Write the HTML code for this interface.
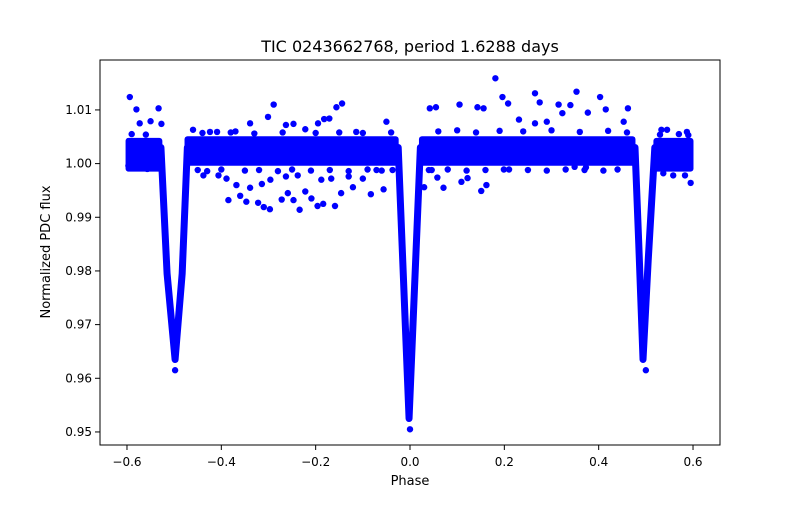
<!DOCTYPE html>
<html><head><meta charset="utf-8"><style>
body{margin:0;background:#fff;font-family:"Liberation Sans","DejaVu Sans",sans-serif}
svg text{font-family:"DejaVu Sans","Liberation Sans",sans-serif}
</style></head><body>
<svg id="chart" width="800" height="500" xmlns="http://www.w3.org/2000/svg">
<rect width="800" height="500" fill="#fff"/>
<text x="410" y="52" font-size="16" text-anchor="middle">TIC 0243662768, period 1.6288 days</text>
<g id="plot"></g>
<rect x="100" y="60" width="620" height="385" fill="none" stroke="#000" stroke-width="1"/>
<g id="xticks"></g>
<g id="yticks"></g>
<text x="410" y="485" font-size="13" text-anchor="middle">Phase</text>
<text transform="translate(50,252) rotate(-90)" font-size="13" text-anchor="middle">Normalized PDC flux</text>
</svg>
<script>
const xTicks=[-0.6,-0.4,-0.2,0.0,0.2,0.4,0.6];
const xTickLabels=["\u22120.6","\u22120.4","\u22120.2","0.0","0.2","0.4","0.6"];
const yTicks=[0.95,0.96,0.97,0.98,0.99,1.00,1.01];
const yTickLabels=["0.95","0.96","0.97","0.98","0.99","1.00","1.01"];
// flat out-of-eclipse bands: start phase, end phase, low flux, high flux
const bandStart=[-0.603,-0.478,0.019,0.516];
const bandEnd=[-0.525,-0.024,0.478,0.601];
const bandLow=[0.9985,0.9996,0.9996,0.9985];
const bandHigh=[1.0048,1.0051,1.0051,1.0048];
// eclipse centre lines
const eclipsePhase=[[-0.528,-0.515,-0.498,-0.483,-0.472],[-0.025,-0.002,0.022],[0.477,0.485,0.494,0.505,0.519]];
const eclipseFlux=[[1.003,0.9795,0.9635,0.9795,1.003],[1.003,0.9525,1.003],[1.003,0.985,0.9635,0.982,1.003]];
// scattered outlier points
const outPhase=[-0.594,-0.580,-0.533,-0.573,-0.550,-0.527,-0.597,-0.557,-0.289,-0.301,-0.339,-0.156,-0.144,-0.171,-0.385,-0.360,-0.347,-0.322,-0.310,-0.297,-0.272,-0.259,-0.247,-0.234,-0.222,-0.209,-0.196,-0.184,-0.159,-0.146,-0.121,-0.083,-0.056,-0.050,0.181,0.196,0.208,0.265,0.275,0.353,0.403,0.415,0.315,0.340,0.462,0.105,0.042,0.055,0.143,0.156,0.151,0.162,0.058,0.071,0.109,0.122,0.199,0.046,0.533,0.545,0.587,0.595,0.583,0.558,0.537,0.349,0.373,-0.460,-0.424,-0.409,-0.370,-0.263,-0.247,-0.222,-0.195,-0.182,-0.114,-0.438,-0.406,-0.389,-0.368,-0.339,-0.314,-0.296,-0.263,-0.238,-0.188,-0.167,-0.130,-0.100,-0.071,-0.037,0.030,0.323,0.377,0.231,0.265,0.290,0.453,-0.498,0.000,0.500,
-0.45,-0.43,-0.40,-0.35,-0.32,-0.28,-0.25,-0.21,-0.17,-0.13,-0.09,-0.06,0.04,0.08,0.12,0.16,0.21,0.25,0.29,0.33,0.37,0.41,0.44,-0.44,-0.38,-0.33,-0.27,-0.20,-0.15,-0.10,-0.04,0.06,0.10,0.14,0.19,0.24,0.30,0.36,0.42,0.46,-0.59,-0.56,0.53,0.57,0.59];
const outFlux=[1.0124,1.0101,1.0103,1.0075,1.0079,1.0074,0.9996,0.9990,1.0110,1.0087,1.0075,1.0105,1.0112,1.0084,0.9932,0.9940,0.9929,0.9927,0.9919,0.9915,0.9933,0.9945,0.9932,0.9914,0.9948,0.9935,0.9921,0.9925,0.9921,0.9945,0.9956,0.9943,0.9952,1.0078,1.0159,1.0124,1.0112,1.0131,1.0114,1.0134,1.0124,1.0101,1.0110,1.0109,1.0103,1.0110,1.0103,1.0105,1.0105,1.0103,0.9949,0.9960,0.9974,0.9955,0.9966,0.9973,0.9989,0.9988,1.0063,1.0063,1.0059,0.9964,0.9978,0.9978,0.9982,0.9994,0.9993,1.0063,1.0059,1.0059,1.0060,1.0072,1.0074,1.0064,1.0075,1.0083,1.0059,0.9978,0.9978,0.9972,0.9960,0.9955,0.9962,0.9970,0.9976,0.9978,0.9970,0.9972,0.9976,0.9972,0.9988,0.9988,0.9956,1.0094,1.0095,1.0082,1.0075,1.0078,1.0078,0.9615,0.9505,0.9615,
0.9988,0.9986,0.9989,0.9987,0.9988,0.9986,0.9989,0.9987,0.9988,0.9986,0.9989,0.9987,0.9988,0.9989,0.9987,0.9988,0.9989,0.9988,0.9987,0.9989,0.9988,0.9987,0.9989,1.0057,1.0058,1.0056,1.0058,1.0057,1.0058,1.0057,1.0058,1.0060,1.0062,1.0058,1.0061,1.0060,1.0062,1.0059,1.0061,1.0058,1.0055,1.0054,1.0054,1.0055,1.0053];
const X=p=>410+p*471.7;
const Y=f=>163.6-(f-1)*5367;
const NS="http://www.w3.org/2000/svg";
const plot=document.getElementById('plot');
function mk(t,a){const e=document.createElementNS(NS,t);for(const k in a)e.setAttribute(k,a[k]);return e;}
for(let i=0;i<bandStart.length;i++){
 const r=mk('rect',{x:X(bandStart[i]),y:Y(bandHigh[i]),width:X(bandEnd[i])-X(bandStart[i]),height:Y(bandLow[i])-Y(bandHigh[i]),rx:3,fill:'#0000ff'});
 
 
 plot.appendChild(r);
}
for(let i=0;i<eclipsePhase.length;i++){
 const pts=eclipsePhase[i].map((p,j)=>X(p)+','+Y(eclipseFlux[i][j])).join(' ');
 const l=mk('polyline',{points:pts,fill:'none',stroke:'#0000ff','stroke-width':7,'stroke-linejoin':'round','stroke-linecap':'round'});
 
 
 plot.appendChild(l);
}
for(let i=0;i<outPhase.length;i++){
 const c=mk('circle',{cx:X(outPhase[i]),cy:Y(outFlux[i]),r:3.2,fill:'#0000ff'});
 
 
 plot.appendChild(c);
}
const xg=document.getElementById('xticks');
xTicks.forEach((t,i)=>{
 const l=mk('line',{x1:X(t),x2:X(t),y1:445,y2:450,stroke:'#000'});
 
 
 xg.appendChild(l);
 const s=mk('text',{x:X(t),y:466,'font-size':12,'text-anchor':'middle'});
 
 
 s.textContent=xTickLabels[i];xg.appendChild(s);
});
const yg=document.getElementById('yticks');
yTicks.forEach((t,i)=>{
 const l=mk('line',{x1:95,x2:100,y1:Y(t),y2:Y(t),stroke:'#000'});
 
 
 yg.appendChild(l);
 const s=mk('text',{x:92,y:Y(t)+4,'font-size':12,'text-anchor':'end'});
 
 
 s.textContent=yTickLabels[i];yg.appendChild(s);
});
</script>
</body></html>
